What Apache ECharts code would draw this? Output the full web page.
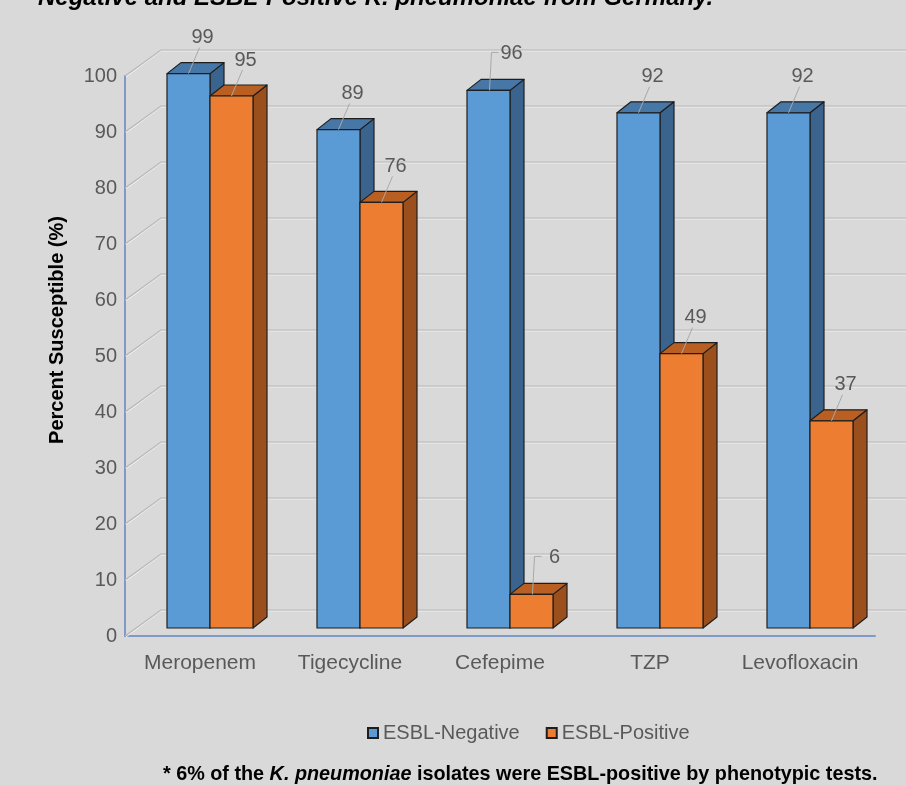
<!DOCTYPE html>
<html><head><meta charset="utf-8">
<script src="https://cdn.jsdelivr.net/npm/echarts@6/dist/echarts.min.js"></script>
<style>html,body{margin:0;padding:0;background:#d9d9d9}#c{width:906px;height:786px}</style>
</head><body><div id="c"></div>
<script>
const categories = ['Meropenem', 'Tigecycline', 'Cefepime', 'TZP', 'Levofloxacin'];
const esblNegative = [99, 89, 96, 92, 92];
const esblPositive = [95, 76, 6, 49, 37];
const seriesNames = ['ESBL-Negative', 'ESBL-Positive'];
const yTicks = [0, 10, 20, 30, 40, 50, 60, 70, 80, 90, 100];

const FONT = '"Liberation Sans", Arial, sans-serif';
const TXT = '#595959';
const DEPTH = [14, 11];
const WALL = [36, 26];
const BAR_RATIO = 43 / 150;
const AXIS_COLOR = '#7f9ac4';
const faces = [
  { front: '#5b9bd5', top: '#4677a7', side: '#3a648e' },
  { front: '#ed7d31', top: '#b95f22', side: '#9a4f1d' }
];
const ELBOW = { Cefepime: true };

function barRender(si) {
  return function (params, api) {
    const ci = api.value(0), v = api.value(1);
    const t = api.coord([ci, v]);
    const b = api.coord([ci, 0]);
    const w = api.size([1, 0])[0] * BAR_RATIO;
    const x0 = si === 0 ? t[0] - w : t[0];
    const y0 = t[1], y1 = b[1];
    const dx = DEPTH[0], dy = DEPTH[1];
    const f = faces[si];
    const st = (fill) => ({ fill: fill, stroke: '#1e1e1e', lineWidth: 1.2, lineJoin: 'round' });
    const cx = x0 + w / 2;
    const children = [
      { type: 'polygon', shape: { points: [[x0 + w, y0], [x0 + w + dx, y0 - dy], [x0 + w + dx, y1 - dy], [x0 + w, y1]] }, style: st(f.side) },
      { type: 'polygon', shape: { points: [[x0, y0], [x0 + dx, y0 - dy], [x0 + w + dx, y0 - dy], [x0 + w, y0]] }, style: st(f.top) },
      { type: 'rect', shape: { x: x0, y: y0, width: w, height: y1 - y0 }, style: st(f.front) }
    ];
    let lx, ly, leader;
    if (ELBOW[categories[ci]]) {
      lx = cx + 23; ly = y0 - 37;
      leader = [[cx + 1, y0], [cx + 3, ly - 1], [cx + 10, ly - 1]];
    } else {
      lx = cx + 14; ly = y0 - 36;
      leader = [[cx, y0], [cx + 11, y0 - 26]];
    }
    children.push({ type: 'polyline', shape: { points: leader }, style: { stroke: '#a9a9a9', lineWidth: 1, fill: null } });
    children.push({ type: 'text', x: lx, y: ly, style: { text: String(v), fill: TXT, font: '20px ' + FONT, align: 'center', verticalAlign: 'middle' } });
    return { type: 'group', children: children };
  };
}

function wallRender(params, api) {
  const v = api.value(1);
  const y = api.coord([0, v])[1];
  const x = params.coordSys.x;
  const bx = x + WALL[0], by = y - WALL[1];
  const W = api.getWidth();
  return {
    type: 'group',
    children: [
      { type: 'polyline', shape: { points: [[x + 1, y + 1], [bx, by + 1], [W, by + 1]] }, style: { stroke: '#f0f0f0', lineWidth: 1, fill: null } },
      { type: 'polyline', shape: { points: [[x, y], [bx, by], [W, by]] }, style: { stroke: '#b8b8b8', lineWidth: 1.2, fill: null } }
    ]
  };
}

const chart = echarts.init(document.getElementById('c'), null, { renderer: 'canvas' });
chart.setOption({
  backgroundColor: '#d9d9d9',
  animation: false,
  textStyle: { fontFamily: FONT },
  grid: [
    { left: 125, top: 76, width: 750, height: 560 },
    { left: 135, top: 68, width: 750, height: 560 }
  ],
  xAxis: [
    { gridIndex: 0, type: 'category', data: categories,
      axisLine: { lineStyle: { color: AXIS_COLOR, width: 2 } }, axisTick: { show: false },
      axisLabel: { color: TXT, fontSize: 21, margin: 17, interval: 0, fontFamily: FONT } },
    { gridIndex: 1, type: 'category', data: categories, show: false }
  ],
  yAxis: [
    { gridIndex: 0, type: 'value', min: 0, max: 100, interval: 10,
      axisLine: { show: true, lineStyle: { color: AXIS_COLOR, width: 2 } }, axisTick: { show: false },
      splitLine: { show: false },
      axisLabel: { color: TXT, fontSize: 20, margin: 8, fontFamily: FONT } },
    { gridIndex: 1, type: 'value', min: 0, max: 100, show: false, splitLine: { show: false } }
  ],
  legend: {
    data: seriesNames, bottom: 38, left: 362,
    icon: 'rect', itemWidth: 10, itemHeight: 10, itemGap: 26,
    textStyle: { color: TXT, fontSize: 20, fontFamily: FONT }
  },
  graphic: [
    { type: 'text', x: 38, y: 10, style: { text: 'Negative and ESBL-Positive K. pneumoniae from Germany.', font: 'bold italic 24px ' + FONT, fill: '#000', verticalAlign: 'bottom' } },
    { type: 'text', x: 57, y: 330, rotation: Math.PI / 2, style: { text: 'Percent Susceptible (%)', font: 'bold 20px ' + FONT, fill: '#000', align: 'center', verticalAlign: 'middle' } },
    { type: 'text', left: 163, top: 765, style: {
      text: '{b|* 6% of the }{i|K. pneumoniae}{b| isolates were ESBL-positive by phenotypic tests.}',
      rich: { b: { font: 'bold 19.8px ' + FONT, fill: '#000' }, i: { font: 'bold italic 19.8px ' + FONT, fill: '#000' } } } }
  ],
  series: [
    { type: 'custom', name: 'wall', xAxisIndex: 0, yAxisIndex: 0, z: 1, silent: true,
      renderItem: wallRender, data: yTicks.map(v => [0, v]) },
    { type: 'custom', name: seriesNames[0], xAxisIndex: 1, yAxisIndex: 1, z: 3,
      itemStyle: { color: faces[0].front, borderColor: '#1e1e1e', borderWidth: 1 },
      renderItem: barRender(0), data: esblNegative.map((v, i) => [i, v]) },
    { type: 'custom', name: seriesNames[1], xAxisIndex: 1, yAxisIndex: 1, z: 4,
      itemStyle: { color: faces[1].front, borderColor: '#1e1e1e', borderWidth: 1 },
      renderItem: barRender(1), data: esblPositive.map((v, i) => [i, v]) }
  ]
});
</script></body></html>
